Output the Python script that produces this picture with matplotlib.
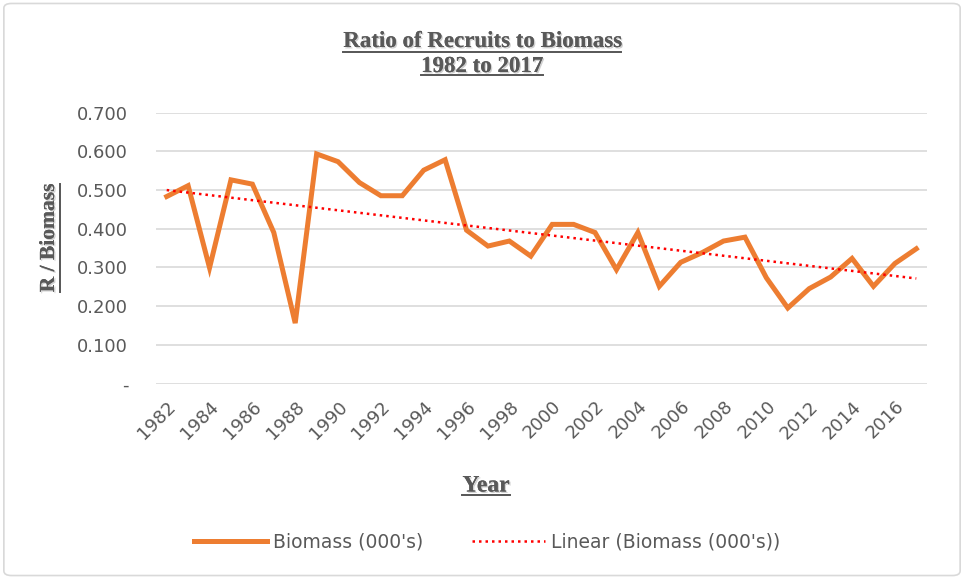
import numpy as np
import matplotlib.pyplot as plt
from matplotlib.lines import Line2D
from matplotlib.patches import FancyBboxPatch
import matplotlib.patheffects as pe

# data
years = list(range(1982, 2018))
ratio = [0.483, 0.511, 0.299, 0.526, 0.515, 0.390, 0.156, 0.593, 0.573, 0.519,
         0.485, 0.485, 0.551, 0.578, 0.396, 0.355, 0.368, 0.329, 0.411, 0.411,
         0.390, 0.294, 0.390, 0.251, 0.313, 0.338, 0.368, 0.378, 0.273, 0.195,
         0.245, 0.275, 0.323, 0.251, 0.310, 0.348]
y_ticks = [0, 0.1, 0.2, 0.3, 0.4, 0.5, 0.6, 0.7]
y_tick_labels = ['-', '0.100', '0.200', '0.300', '0.400', '0.500', '0.600', '0.700']

ORANGE = '#ED7D31'
GREY = '#595959'
SERIF = 'Liberation Serif'
shadow = [pe.withSimplePatchShadow(offset=(1, -1), shadow_rgbFace='#b0b0b0', alpha=0.6), pe.Normal()]

fig = plt.figure(figsize=(9.64, 5.79), dpi=100)
fig.patches.append(FancyBboxPatch((0.004, 0.006), 0.992, 0.988, boxstyle='round,pad=0,rounding_size=0.008',
                                  transform=fig.transFigure, fill=False, edgecolor='#d9d9d9', linewidth=1.2))

ax = fig.add_axes([156 / 964, 1 - 383.5 / 579, 771 / 964, 271 / 579])
x = np.arange(len(years))
ax.plot(x, ratio, color=ORANGE, linewidth=3.6, solid_joinstyle='miter', label="Biomass (000's)")

# linear trendline like Excel's
slope, intercept = np.polyfit(x, ratio, 1)
ax.plot(x, slope * x + intercept, color='#FF0000', linewidth=1.8, linestyle=(0, (1, 1.6)),
        label="Linear (Biomass (000's))")

ax.set_xlim(-0.5, len(years) - 0.5)
ax.set_ylim(0, 0.7)
ax.set_yticks(y_ticks)
ax.set_yticklabels(y_tick_labels)
ax.set_xticks(x[::2])
ax.set_xticklabels([str(y) for y in years[::2]], rotation=45, ha='right', rotation_mode='anchor')
ax.tick_params(length=0, labelcolor=GREY, labelsize=13)
ax.tick_params(axis='y', pad=20)
ax.tick_params(axis='x', pad=10)
ax.grid(axis='y', color='#d9d9d9', linewidth=1.2)
ax.set_axisbelow(True)
for s in ax.spines.values():
    s.set_visible(False)

txt_title = fig.text(0.5, 1 - 54 / 579, 'Ratio of Recruits to Biomass\n1982 to 2017', ha='center', va='center',
                     family=SERIF, weight='bold', fontsize=16.5, color=GREY, linespacing=1.25,
                     path_effects=shadow)
txt_y = fig.text(49 / 964, 1 - 238 / 579, 'R / Biomass', ha='center', va='center', rotation=90,
                 family=SERIF, weight='bold', fontsize=15.5, color=GREY, path_effects=shadow)
txt_x = fig.text(486 / 964, 1 - 486 / 579, 'Year', ha='center', va='center',
                 family=SERIF, weight='bold', fontsize=17, color=GREY, path_effects=shadow)

leg = fig.legend(loc='center', bbox_to_anchor=(487 / 964, 1 - 542 / 579), ncol=2, frameon=False,
                 fontsize=13.5, labelcolor=GREY, handlelength=3.9, handletextpad=0.3, columnspacing=2.6)

# underline the serif texts
fig.canvas.draw()
r = fig.canvas.get_renderer()
inv = fig.transFigure.inverted()


def underline(t, lines=1):
    bb = t.get_window_extent(r)
    if t.get_rotation() == 90:
        x0 = inv.transform((bb.x1 + 1, 0))[0]
        y0 = inv.transform((0, bb.y0))[1]
        y1 = inv.transform((0, bb.y1))[1]
        fig.add_artist(Line2D([x0, x0], [y0, y1], transform=fig.transFigure, color=GREY, linewidth=1.3,
                              path_effects=shadow))
        return
    h = bb.height / lines
    for i in range(lines):
        ybase = bb.y1 - (i + 1) * h + 2
        # width of each line
        line_txt = t.get_text().split('\n')[i]
        tmp = fig.text(0, 0, line_txt, family=SERIF, weight='bold', fontsize=t.get_fontsize())
        w = tmp.get_window_extent(r).width
        tmp.remove()
        cx = (bb.x0 + bb.x1) / 2
        (fx0, fy), (fx1, _) = inv.transform([(cx - w / 2, ybase), (cx + w / 2, ybase)])
        fig.add_artist(Line2D([fx0, fx1], [fy, fy], transform=fig.transFigure, color=GREY, linewidth=1.3,
                              path_effects=shadow))


underline(txt_title, 2)
underline(txt_y)
underline(txt_x)

fig.savefig('out.png', dpi=100)
